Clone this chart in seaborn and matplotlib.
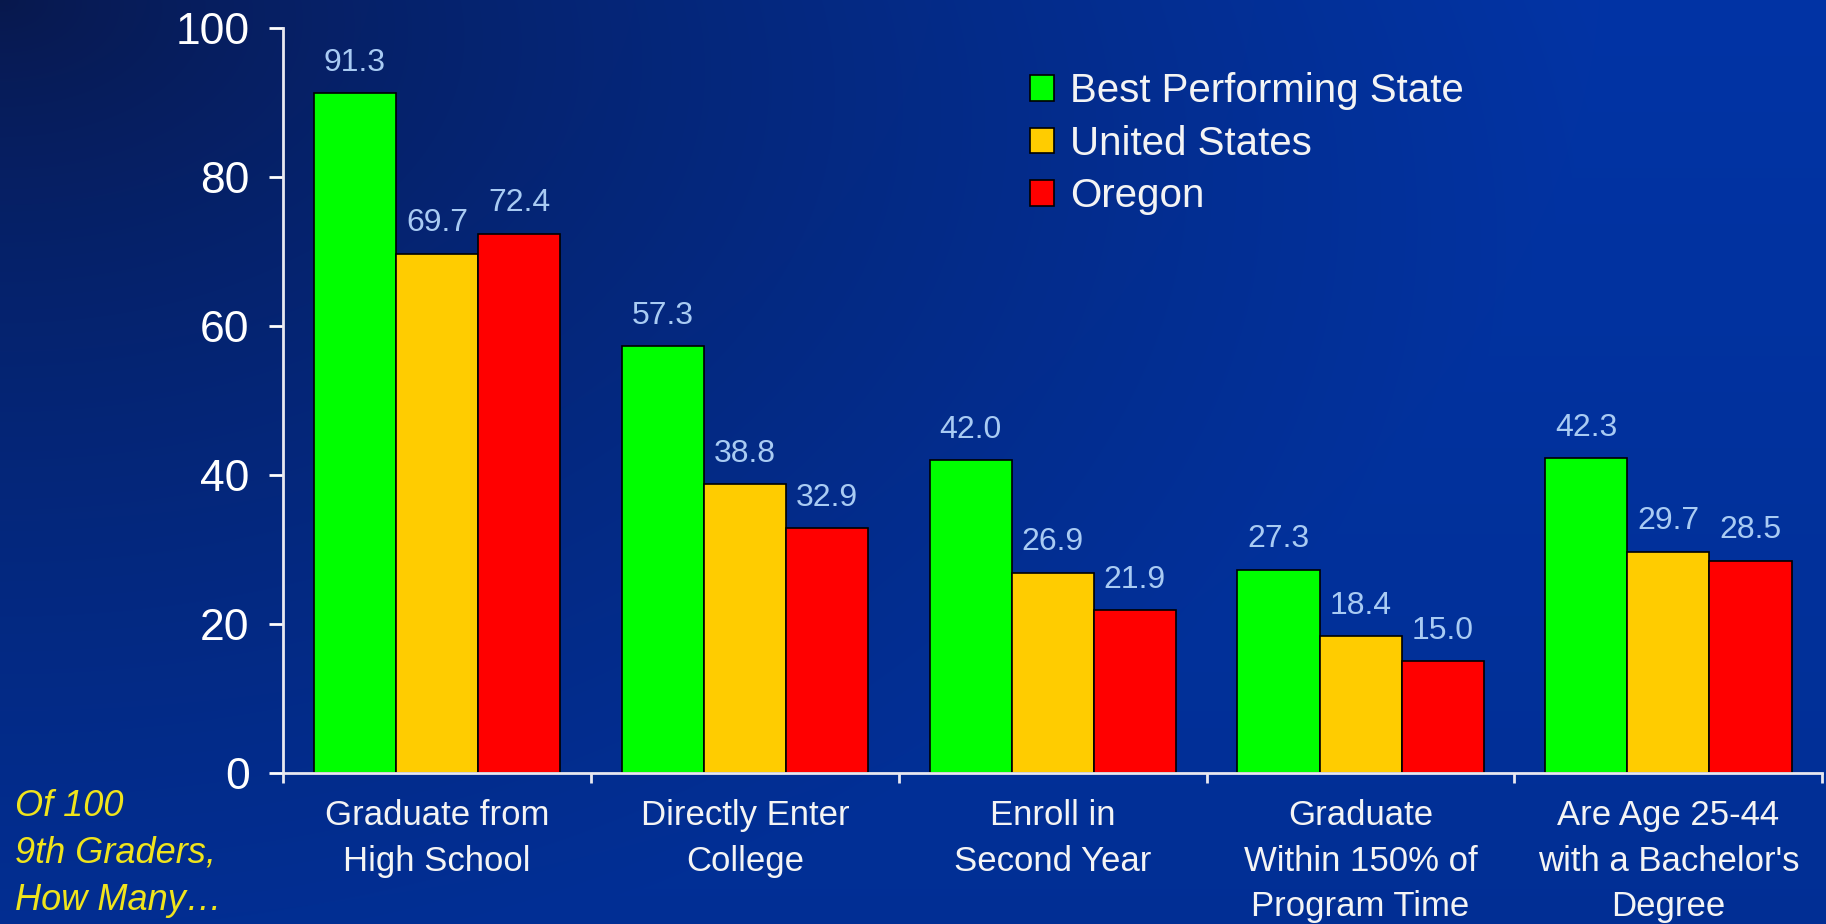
import numpy as np
import pandas as pd
import seaborn as sns
import matplotlib.pyplot as plt
from matplotlib.ticker import FixedLocator

## Data
categories = ["Graduate from\nHigh School", "Directly Enter\nCollege", "Enroll in\nSecond Year",
              "Graduate\nWithin 150% of\nProgram Time", "Are Age 25-44\nwith a Bachelor's\nDegree"]
groups = ["Best Performing State", "United States", "Oregon"]
best_state = [91.3, 57.3, 42.0, 27.3, 42.3]
united_states = [69.7, 38.8, 26.9, 18.4, 29.7]
oregon = [72.4, 32.9, 21.9, 15.0, 28.5]
y_ticks = [0, 20, 40, 60, 80, 100]
side_note = "Of 100\n9th Graders,\nHow Many\u2026"

# Long table for seaborn
df = pd.DataFrame({
    "category": categories * 3,
    "group": [groups[0]] * 5 + [groups[1]] * 5 + [groups[2]] * 5,
    "value": best_state + united_states + oregon,
})

## Style
sns.set_style("white")
plt.rcParams['font.family'] = ['Liberation Sans', 'DejaVu Sans']
colors = ["#00ff00", "#ffcc00", "#ff0000"]
label_blue = "#a9cbf3"

fig = plt.figure(figsize=(18.26, 9.24), dpi=100)

# Background gradient (dark navy in the top-left corner, saturated blue elsewhere)
H, W = 924, 1826
yy, xx = np.mgrid[0:H, 0:W]
f = np.clip(np.hypot(1.2 * xx / W, yy / H) / 1.05, 0, 1) ** 0.75
dark = np.array([8, 24, 76]) / 255
bright = np.array([2, 52, 165]) / 255
bg = (dark + (bright - dark) * f[..., None]) * (1 - 0.1 * yy / H)[..., None]
bg_ax = fig.add_axes([0, 0, 1, 1], zorder=0)
bg_ax.imshow(bg, aspect='auto', extent=[0, 1, 0, 1])
bg_ax.axis('off')

ax = fig.add_axes([0.155, 0.1634, 0.843, 0.8063], zorder=1)
ax.patch.set_alpha(0)

sns.barplot(df, x="category", y="value", hue="group", palette=colors, edgecolor="black",
            linewidth=1.2, saturation=1, width=0.8, ax=ax)

# Value labels
for cont in ax.containers:
    ax.bar_label(cont, fmt="%.1f", padding=11, color=label_blue, fontsize=23)

# Axes
ax.set_ylim(0, 100)
ax.set_xlim(-0.5, 4.5)
ax.set_yticks(y_ticks)
ax.set_xlabel("")
ax.set_ylabel("")
for s in ["top", "right"]:
    ax.spines[s].set_visible(False)
for s in ["left", "bottom"]:
    ax.spines[s].set_color("#e8e8f0")
    ax.spines[s].set_linewidth(2)
ax.tick_params(axis='y', colors="white", labelsize=32, length=10, width=2, pad=14, direction='out', left=True)
ax.tick_params(axis='x', colors="white", labelsize=25, length=0, pad=19)
ax.xaxis.set_minor_locator(FixedLocator([-0.5, 0.5, 1.5, 2.5, 3.5, 4.5]))
ax.tick_params(axis='x', which='minor', bottom=True, length=7, width=2, color="#e8e8f0", direction='out')
for lab in ax.get_xticklabels():
    lab.set_linespacing(1.48)
    lab.set_color("#f4f4f4")

# Legend
handles, labels = ax.get_legend_handles_labels()
ax.legend(handles, labels, loc="upper left", bbox_to_anchor=(0.564, 0.922), bbox_transform=fig.transFigure,
          frameon=False, fontsize=29, handlelength=0.6, handleheight=0.6, handletextpad=0.4,
          labelspacing=0.36, borderpad=0, borderaxespad=0, labelcolor="#f4f4f4")

# Side note
fig.text(0.008, 1 - 789 / 924, side_note, color="#f0e41c", fontsize=26, style="italic",
         va="top", ha="left", linespacing=1.44)

plt.savefig("out.png", dpi=100)
